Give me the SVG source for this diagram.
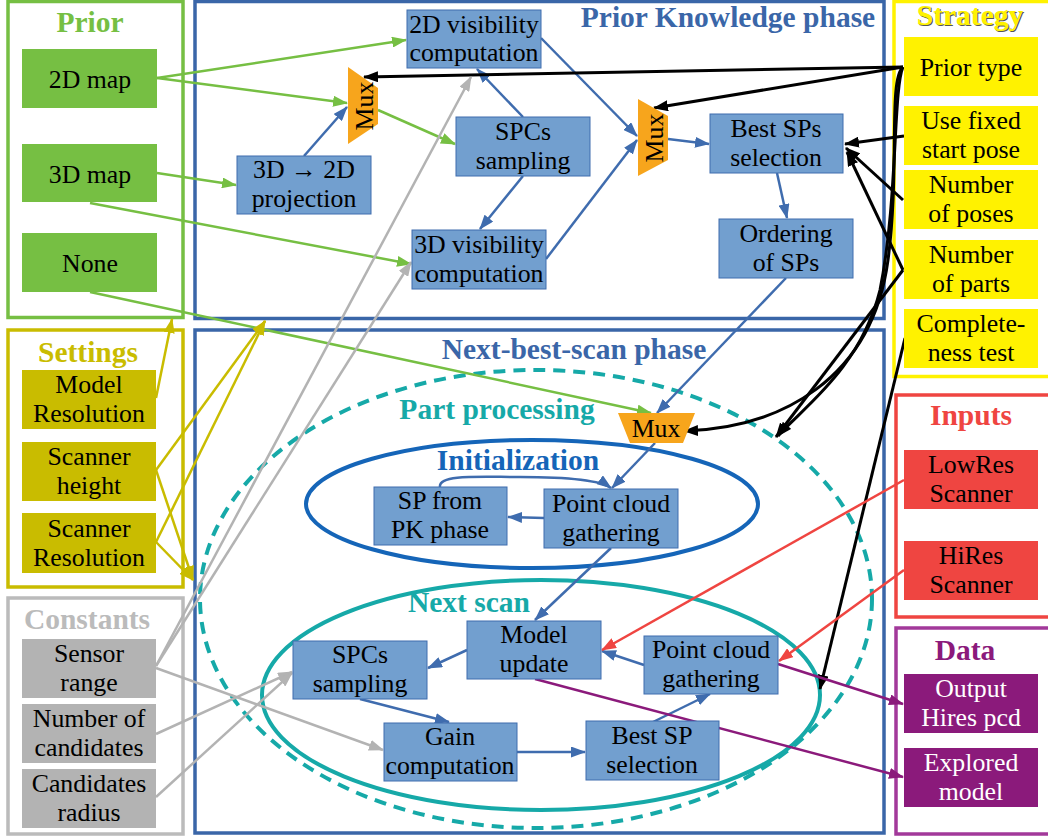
<svg xmlns="http://www.w3.org/2000/svg" width="1048" height="837" viewBox="0 0 1048 837">
<style>
.t{font-family:"Liberation Serif",serif;font-size:25.8px;text-anchor:middle;fill:#000}
.tw{font-family:"Liberation Serif",serif;font-size:25.8px;text-anchor:middle;fill:#fff}
.h{font-family:"Liberation Serif",serif;font-size:29.5px;font-weight:bold;text-anchor:middle}
.fr{fill:none;stroke-width:3.5}
.gn{fill:#76bf43}
.bn{fill:#729fcf;stroke:#3f6cae;stroke-width:1}
.yn{fill:#fff200}
.sn{fill:#c9bc00}
.cn{fill:#b3b3b3}
.rn{fill:#ef4541}
.pn{fill:#8b1a7b}
.mux{fill:#f7a51c}
.c{fill:none;stroke-width:2.5}
.cg{stroke:#76bf43;marker-end:url(#ag)}
.cb{stroke:#3f6cae;marker-end:url(#ab)}
.ck{stroke:#000;stroke-width:3;marker-end:url(#ak)}
.cy{stroke:#c9bc00;marker-end:url(#ay)}
.cc{stroke:#b3b3b3;marker-end:url(#ac)}
.cr{stroke:#ef4541;marker-end:url(#ar)}
.cp{stroke:#8b1a7b;marker-end:url(#ap)}
</style>
<defs>
<marker id="ag" markerUnits="userSpaceOnUse" markerWidth="15" markerHeight="11" refX="14" refY="5.5" orient="auto"><path d="M0,0 L15,5.5 L0,11 z" fill="#76bf43"/></marker>
<marker id="ab" markerUnits="userSpaceOnUse" markerWidth="15" markerHeight="11" refX="14" refY="5.5" orient="auto"><path d="M0,0 L15,5.5 L0,11 z" fill="#3f6cae"/></marker>
<marker id="ak" markerUnits="userSpaceOnUse" markerWidth="15" markerHeight="11" refX="14" refY="5.5" orient="auto"><path d="M0,0 L15,5.5 L0,11 z" fill="#000"/></marker>
<marker id="ay" markerUnits="userSpaceOnUse" markerWidth="15" markerHeight="11" refX="14" refY="5.5" orient="auto"><path d="M0,0 L15,5.5 L0,11 z" fill="#c9bc00"/></marker>
<marker id="ac" markerUnits="userSpaceOnUse" markerWidth="15" markerHeight="11" refX="14" refY="5.5" orient="auto"><path d="M0,0 L15,5.5 L0,11 z" fill="#b3b3b3"/></marker>
<marker id="ar" markerUnits="userSpaceOnUse" markerWidth="15" markerHeight="11" refX="14" refY="5.5" orient="auto"><path d="M0,0 L15,5.5 L0,11 z" fill="#ef4541"/></marker>
<marker id="ap" markerUnits="userSpaceOnUse" markerWidth="15" markerHeight="11" refX="14" refY="5.5" orient="auto"><path d="M0,0 L15,5.5 L0,11 z" fill="#8b1a7b"/></marker>
</defs>
<rect width="1048" height="837" fill="#fff"/>

<g id="frames">
<rect class="fr" x="8" y="1.5" width="175" height="316" stroke="#76bf43"/>
<rect class="fr" x="195" y="1.5" width="689" height="317" stroke="#3a66a8"/>
<rect class="fr" x="195" y="330" width="689" height="503" stroke="#3a66a8"/>
<rect class="fr" x="8" y="330" width="175" height="257" stroke="#c9bc00"/>
<rect class="fr" x="8" y="598" width="175" height="236" stroke="#bbbbbb"/>
<rect class="fr" x="894" y="1.5" width="160" height="375" stroke="#fff200"/>
<rect class="fr" x="896" y="395" width="160" height="222" stroke="#ef4541"/>
<rect class="fr" x="896" y="628" width="160" height="206" stroke="#a2399a"/>
</g>

<g id="ellipses">
<ellipse cx="536" cy="599" rx="336" ry="229" fill="none" stroke="#16a9a8" stroke-width="4" stroke-dasharray="12 8"/>
<ellipse cx="532" cy="504" rx="226" ry="64" fill="none" stroke="#1565b8" stroke-width="4"/>
<ellipse cx="541" cy="695" rx="279" ry="115" fill="none" stroke="#16a9a8" stroke-width="4"/>
</g>

<g id="titles">
<text class="h" x="90" y="32" fill="#76bf43">Prior</text>
<text class="h" x="728" y="27" fill="#3a66a8">Prior Knowledge phase</text>
<text class="h" x="971" y="26" fill="#555">Strategy</text>
<text class="h" x="970" y="25" fill="#fff200">Strategy</text>
<text class="h" x="88" y="362" fill="#c9bc00">Settings</text>
<text class="h" x="87" y="629" fill="#bbbbbb">Constants</text>
<text class="h" x="971" y="425" fill="#ef4541">Inputs</text>
<text class="h" x="965" y="660" fill="#8b1a7b">Data</text>
<text class="h" x="574" y="359" fill="#3a66a8">Next-best-scan phase</text>
<text class="h" x="497" y="419" fill="#16a9a8">Part processing</text>
<text class="h" x="518" y="470" fill="#1565b8">Initialization</text>
<text class="h" x="469" y="612" fill="#16a9a8">Next scan</text>
</g>

<g id="connectors">
<path class="c cg" d="M157,78 L406,40"/>
<path class="c cg" d="M157,78 L347,103"/>
<path class="c cg" d="M157,173 L236,185"/>
<path class="c cg" d="M90,203 L411,264"/>
<path class="c cg" d="M90,292 L651,413"/>
<path class="c cg" d="M378,110 L455,144"/>
<path class="c cb" d="M304,156 L347,107"/>
<path class="c cb" d="M523,117 L477,69"/>
<path class="c cb" d="M523,176 L480,229"/>
<path class="c cb" d="M541,38 L637,136"/>
<path class="c cb" d="M546,259 L637,140"/>
<path class="c cb" d="M668,139 L709,144"/>
<path class="c cb" d="M777,173 L787,218"/>
<path class="c cb" d="M786,278 L657,413"/>
<path class="c cb" d="M655,443 L612,488"/>
<path class="c cb" d="M544,518 L508,517"/>
<path class="c cb" d="M440,487 C438,474 480,477 520,477 C570,477 600,480 611,488"/>
<path class="c cb" d="M611,548 L535,620"/>
<path class="c cb" d="M467,650 L428,668"/>
<path class="c cb" d="M360,699 L449,722"/>
<path class="c cb" d="M517,752 L585,752"/>
<path class="c cb" d="M653,722 L710,694"/>
<path class="c cb" d="M644,665 L602,651"/>
<path class="c ck" d="M903,67 L364,77"/>
<path class="c ck" d="M903,67 L654,108"/>
<path class="c ck" d="M904,136 L845,144"/>
<path class="c ck" d="M903,200 L846,148"/>
<path class="c ck" d="M903,270 L847,152"/>
<path class="c ck" d="M903,270 L776,437"/>
<path class="c ck" d="M903,67 C888,80 900,170 888,260 C872,380 780,428 684,431"/>
<path class="c ck" d="M903,67 C893,90 898,200 880,290 C860,370 800,410 778,436"/>
<path class="c ck" d="M905,338 L820,689"/>
<path class="c cy" d="M156,398 L172,319"/>
<path class="c cy" d="M156,470 L265,321"/>
<path class="c cy" d="M156,470 L193,580"/>
<path class="c cy" d="M156,542 L265,321"/>
<path class="c cy" d="M156,542 L193,580"/>
<path class="c cc" d="M156,666 L471,77"/>
<path class="c cc" d="M156,666 L411,262"/>
<path class="c cc" d="M156,668 L383,750"/>
<path class="c cc" d="M156,734 L292,672"/>
<path class="c cc" d="M156,797 L292,673"/>
<path class="c cr" d="M904,480 L602,650"/>
<path class="c cr" d="M904,570 L779,661"/>
<path class="c cp" d="M778,664 L903,704"/>
<path class="c cp" d="M535,679 L903,777"/>
</g>

<g id="prior-2d"><rect class="gn" x="22" y="49" width="135" height="59"/><text class="t" x="90" y="88">2D map</text></g>
<g id="prior-3d"><rect class="gn" x="22" y="144" width="135" height="58"/><text class="t" x="90" y="183">3D map</text></g>
<g id="prior-none"><rect class="gn" x="22" y="233" width="135" height="59"/><text class="t" x="90" y="272">None</text></g>

<g id="proj"><rect class="bn" x="237" y="156" width="134" height="58"/><text class="t" x="304" y="178">3D → 2D</text><text class="t" x="304" y="207">projection</text></g>
<g id="vis2d"><rect class="bn" x="407" y="10" width="134" height="58"/><text class="t" x="474" y="33">2D visibility</text><text class="t" x="474" y="61">computation</text></g>
<g id="spcs-pk"><rect class="bn" x="456" y="117" width="134" height="59"/><text class="t" x="523" y="140">SPCs</text><text class="t" x="523" y="169">sampling</text></g>
<g id="vis3d"><rect class="bn" x="412" y="230" width="134" height="59"/><text class="t" x="479" y="253">3D visibility</text><text class="t" x="479" y="282">computation</text></g>
<g id="best-sps"><rect class="bn" x="710" y="114" width="133" height="59"/><text class="t" x="776" y="137">Best SPs</text><text class="t" x="776" y="166">selection</text></g>
<g id="ordering"><rect class="bn" x="719" y="219" width="134" height="59"/><text class="t" x="786" y="242">Ordering</text><text class="t" x="786" y="271">of SPs</text></g>

<g id="mux1"><polygon class="mux" points="348,67 378,88 378,124 348,144"/><text class="t" transform="translate(373,106) rotate(-90)">Mux</text></g>
<g id="mux2"><polygon class="mux" points="638,99 668,116 668,160 638,176"/><text class="t" transform="translate(663,138) rotate(-90)">Mux</text></g>
<g id="mux3"><polygon class="mux" points="618,413 695,413 683,443 630,443"/><text class="t" x="656" y="437">Mux</text></g>

<g id="sp-from-pk"><rect class="bn" x="374" y="487" width="133" height="58"/><text class="t" x="440" y="509">SP from</text><text class="t" x="440" y="538">PK phase</text></g>
<g id="pcg-init"><rect class="bn" x="544" y="489" width="134" height="59"/><text class="t" x="611" y="512">Point cloud</text><text class="t" x="611" y="541">gathering</text></g>

<g id="model-update"><rect class="bn" x="467" y="621" width="134" height="58"/><text class="t" x="534" y="643">Model</text><text class="t" x="534" y="672">update</text></g>
<g id="spcs-ns"><rect class="bn" x="293" y="641" width="134" height="58"/><text class="t" x="360" y="663">SPCs</text><text class="t" x="360" y="692">sampling</text></g>
<g id="pcg-ns"><rect class="bn" x="644" y="636" width="134" height="58"/><text class="t" x="711" y="658">Point cloud</text><text class="t" x="711" y="687">gathering</text></g>
<g id="gain"><rect class="bn" x="384" y="723" width="133" height="58"/><text class="t" x="450" y="745">Gain</text><text class="t" x="450" y="774">computation</text></g>
<g id="best-sp"><rect class="bn" x="586" y="721" width="133" height="59"/><text class="t" x="652" y="744">Best SP</text><text class="t" x="652" y="773">selection</text></g>

<g id="prior-type"><rect class="yn" x="904" y="37" width="134" height="59"/><text class="t" x="971" y="76">Prior type</text></g>
<g id="fixed-start"><rect class="yn" x="904" y="106" width="134" height="59"/><text class="t" x="971" y="129">Use fixed</text><text class="t" x="971" y="158">start pose</text></g>
<g id="num-poses"><rect class="yn" x="904" y="170" width="134" height="59"/><text class="t" x="971" y="193">Number</text><text class="t" x="971" y="222">of poses</text></g>
<g id="num-parts"><rect class="yn" x="904" y="240" width="134" height="59"/><text class="t" x="971" y="263">Number</text><text class="t" x="971" y="292">of parts</text></g>
<g id="completeness"><rect class="yn" x="904" y="309" width="134" height="59"/><text class="t" x="971" y="332">Complete-</text><text class="t" x="971" y="361">ness test</text></g>

<g id="model-res"><rect class="sn" x="22" y="370" width="134" height="59"/><text class="t" x="89" y="393">Model</text><text class="t" x="89" y="422">Resolution</text></g>
<g id="scanner-height"><rect class="sn" x="22" y="442" width="134" height="59"/><text class="t" x="89" y="465">Scanner</text><text class="t" x="89" y="494">height</text></g>
<g id="scanner-res"><rect class="sn" x="22" y="513" width="134" height="60"/><text class="t" x="89" y="537">Scanner</text><text class="t" x="89" y="566">Resolution</text></g>

<g id="sensor-range"><rect class="cn" x="22" y="639" width="134" height="59"/><text class="t" x="89" y="662">Sensor</text><text class="t" x="89" y="691">range</text></g>
<g id="num-cand"><rect class="cn" x="22" y="704" width="134" height="59"/><text class="t" x="89" y="727">Number of</text><text class="t" x="89" y="756">candidates</text></g>
<g id="cand-radius"><rect class="cn" x="22" y="769" width="134" height="59"/><text class="t" x="89" y="792">Candidates</text><text class="t" x="89" y="821">radius</text></g>

<g id="lowres"><rect class="rn" x="904" y="450" width="134" height="59"/><text class="t" x="971" y="473">LowRes</text><text class="t" x="971" y="502">Scanner</text></g>
<g id="hires"><rect class="rn" x="904" y="541" width="134" height="59"/><text class="t" x="971" y="564">HiRes</text><text class="t" x="971" y="593">Scanner</text></g>

<g id="output-pcd"><rect class="pn" x="904" y="674" width="134" height="59"/><text class="tw" x="971" y="697">Output</text><text class="tw" x="971" y="726">Hires pcd</text></g>
<g id="explored"><rect class="pn" x="904" y="748" width="134" height="59"/><text class="tw" x="971" y="771">Explored</text><text class="tw" x="971" y="800">model</text></g>
</svg>
